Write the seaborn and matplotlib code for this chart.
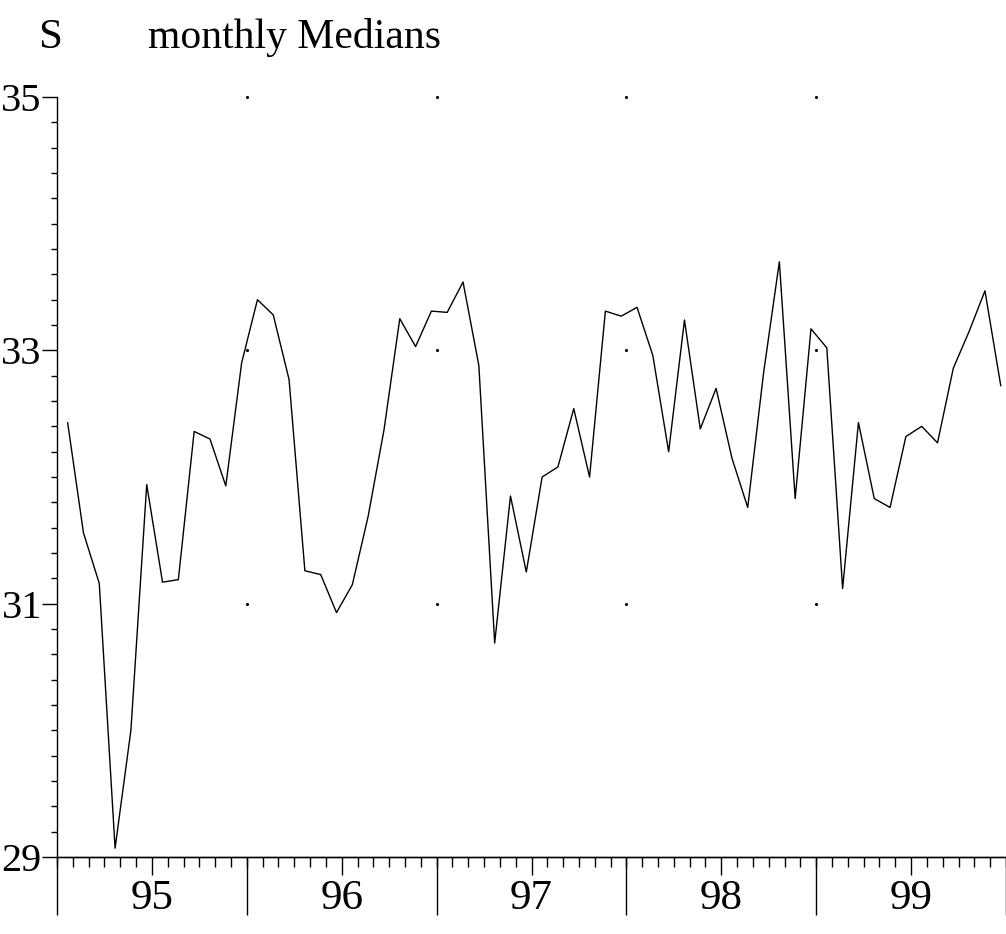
import numpy as np
import pandas as pd
import matplotlib
matplotlib.use("Agg")
import matplotlib.pyplot as plt
import seaborn as sns
from matplotlib.ticker import MultipleLocator

# monthly medians of S, Jan 95 .. Dec 99
medians = [32.43, 31.56, 31.16, 29.07, 30.00, 31.94, 31.17, 31.19, 32.36, 32.30, 31.93, 32.90,
           33.40, 33.28, 32.77, 31.26, 31.23, 30.93, 31.15, 31.69, 32.37, 33.25, 33.03, 33.31,
           33.30, 33.54, 32.88, 30.69, 31.85, 31.25, 32.00, 32.08, 32.54, 32.00, 33.31, 33.27,
           33.34, 32.96, 32.20, 33.24, 32.38, 32.70, 32.15, 31.76, 32.82, 33.70, 31.83, 33.17,
           33.02, 31.12, 32.43, 31.83, 31.76, 32.32, 32.40, 32.27, 32.86, 33.15, 33.47, 32.72]
first_year = 95
years = [95, 96, 97, 98, 99]
year_labels = ["95", "96", "97", "98", "99"]
y_ticks = [29, 31, 33, 35]
y_labels = ["29", "31", "33", "35"]

month_offset = 0.67  # points sit late in each month

sns.set_style("ticks")
plt.rcParams["font.family"] = ["Liberation Serif", "DejaVu Serif"]
plt.rcParams["text.color"] = "black"

df = pd.DataFrame({
    "t": first_year + (np.arange(len(medians)) + month_offset) / 12,
    "S": medians,
})

fig = plt.figure(figsize=(10.06, 9.34), dpi=100)
ax = fig.add_axes([0.0567, 0.0824, 0.9433, 0.8137])

sns.lineplot(data=df, x="t", y="S", color="black", lw=1.0, ax=ax)
ax.set_xlim(years[0], years[-1] + 1)
ax.set_ylim(y_ticks[0], y_ticks[-1])
ax.set_xlabel("")
ax.set_ylabel("")
sns.despine(ax=ax)
for s in ["left", "bottom"]:
    ax.spines[s].set_linewidth(1.0)
    ax.spines[s].set_color("black")

# y axis
ax.set_yticks(y_ticks, y_labels)
ax.yaxis.set_minor_locator(MultipleLocator(0.2))
ax.tick_params(axis="y", which="major", length=11, width=1, pad=0, labelsize=29, colors="black")
ax.tick_params(axis="y", which="minor", length=4, width=1, color="black")

# x axis: labels mid-year, monthly minor ticks, long ticks at year boundaries
ax.set_xticks([y + 0.5 for y in years], year_labels)
ax.xaxis.set_minor_locator(MultipleLocator(1 / 12))
ax.tick_params(axis="x", which="major", length=13, width=1, pad=3, labelsize=31, colors="black")
ax.tick_params(axis="x", which="minor", length=7, width=1, color="black")

edges = years + [years[-1] + 1]
sec = ax.secondary_xaxis("bottom")
sec.set_xticks(edges)
sec.tick_params(length=42, width=1, labelbottom=False, color="black")
sec.spines["bottom"].set_linewidth(1.0)

# faint dots at the grid crossings
gx, gy = np.meshgrid(edges[1:-1], y_ticks[1:])
ax.scatter(gx.ravel(), gy.ravel(), s=1.5, color="black", clip_on=False, zorder=3)

fig.text(0.0497, 0.9486, "S", ha="center", va="baseline", fontsize=31, color="black")
fig.text(0.147, 0.9486, "monthly Medians", ha="left", va="baseline", fontsize=30, color="black")

fig.savefig("out.png", dpi=100)
